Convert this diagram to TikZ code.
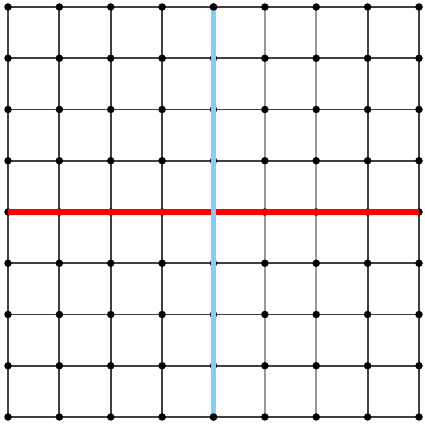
\documentclass[tikz,border=0pt]{standalone}
\definecolor{skyb}{RGB}{130,205,250}
\begin{document}
\begin{tikzpicture}[x=1pt,y=1pt,
  dot/.style={circle,fill=black,inner sep=0pt,minimum size=7.5pt},
  gridline/.style={draw=black!75,line width=1.8pt},
  lightline/.style={draw=black!40,line width=1.8pt},
  redline/.style={draw=red,line width=5.5pt},
  blueline/.style={draw=skyb,line width=5pt}]
\useasboundingbox (0,0) rectangle (425,429);
\foreach \i in {0,...,8}{
  \foreach \j in {0,...,8}{
    \coordinate (c-\i-\j) at ({8+51.375*\i},{422-51.25*\j});
  }
}
% horizontal lines
\foreach \j in {0,...,8}{
  \draw[gridline] (c-0-\j) -- (c-8-\j);
}
% vertical lines
\foreach \i in {0,1,2,3,4,7,8}{
  \draw[gridline] (c-\i-0) -- (c-\i-8);
}
\foreach \i in {5,6}{
  \draw[lightline] (c-\i-0) -- (c-\i-8);
}
\foreach \i in {0,...,8}{
  \foreach \j in {0,1,2,3,5,6,7,8}{
    \node[dot] (n-\i-\j) at (c-\i-\j) {};
  }
}
\foreach \i in {0,...,8}{
  \node[dot] (n-\i-4) at (c-\i-4) {};
}
\draw[redline] (n-0-4.center) -- (n-8-4.center);
\draw[blueline] (n-4-0.center) -- (n-4-8.center);
\node[dot] at (c-4-0) {};
\node[dot] at (c-4-8) {};
\end{tikzpicture}
\end{document}
